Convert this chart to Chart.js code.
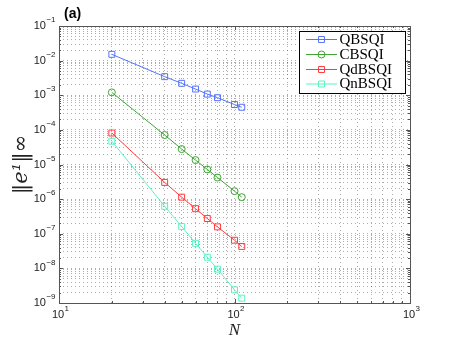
<!DOCTYPE html>
<html>
<head>
<meta charset="utf-8">
<script src="https://cdn.jsdelivr.net/npm/chart.js@4.4.1/dist/chart.umd.min.js"></script>
<style>
  html, body { margin: 0; padding: 0; background: #fff; }
  #wrap { width: 452px; height: 341px; }
</style>
</head>
<body>
<div id="wrap"><canvas id="myChart" width="452" height="341"></canvas></div>
<script>
// data
const valoresN = [20, 40, 50, 60, 70, 80, 100, 110];
const qbsqi   = [1.52e-2, 3.44e-3, 2.21e-3, 1.51e-3, 1.08e-3, 8.5e-4, 5.4e-4, 4.5e-4];
const cbsqi   = [1.21e-3, 7.1e-5, 2.79e-5, 1.34e-5, 7.2e-6, 4.2e-6, 1.7e-6, 1.14e-6];
const qdbsqi  = [8.1e-5, 3.04e-6, 1.14e-6, 5.3e-7, 2.75e-7, 1.58e-7, 6.5e-8, 4.3e-8];
const qnbsqi  = [4.7e-5, 6.2e-7, 1.62e-7, 5.3e-8, 2.1e-8, 9.5e-9, 2.4e-9, 1.38e-9];
const nombres = ['QBSQI', 'CBSQI', 'QdBSQI', 'QnBSQI'];
const xExps = [1, 2, 3];
const yExps = [-9, -8, -7, -6, -5, -4, -3, -2, -1];

const colores = ['#5573ff', '#3da532', '#ff3c3c', '#5cf2c4'];
const marcas = ['rect', 'circle', 'rect', 'rect'];
const series = [qbsqi, cbsqi, qdbsqi, qnbsqi];

function ticksLog(exps) {
  // 1..9 x 10^e for every decade, plus the last major
  const t = [];
  for (let i = 0; i < exps.length - 1; i++) {
    for (let k = 1; k <= 9; k++) t.push({ value: k * Math.pow(10, exps[i]), major: k === 1 });
  }
  t.push({ value: Math.pow(10, exps[exps.length - 1]), major: true });
  return t;
}

const datasets = series.map((s, i) => ({
  label: nombres[i],
  data: valoresN.map((n, j) => ({ x: n, y: s[j] })),
  borderColor: colores[i],
  backgroundColor: 'rgba(0,0,0,0)',
  borderWidth: 1,
  pointStyle: marcas[i],
  pointRadius: marcas[i] === 'circle' ? 3.5 : 4.2,
  pointBorderWidth: 1,
  pointBorderColor: colores[i],
  pointBackgroundColor: 'rgba(0,0,0,0)',
  tension: 0
}));

function potencia(ctx, exp, x, y, align) {
  // draws "10" with a raised exponent
  ctx.font = '11px "Liberation Sans", Arial, sans-serif';
  const wBase = ctx.measureText('10').width;
  ctx.font = '8px "Liberation Sans", Arial, sans-serif';
  const eTxt = String(exp).replace('-', '\u2212');
  const wExp = ctx.measureText(eTxt).width;
  let x0;
  if (align === 'right') x0 = x - wBase - wExp;
  else x0 = x - wBase / 2 - 1;
  ctx.textBaseline = 'middle';
  ctx.textAlign = 'left';
  ctx.font = '11px "Liberation Sans", Arial, sans-serif';
  ctx.fillText('10', x0, y);
  ctx.font = '8px "Liberation Sans", Arial, sans-serif';
  ctx.fillText(eTxt, x0 + wBase + 0.5, y - 6);
}

const dibujoExtra = {
  id: 'dibujoExtra',
  afterDraw(chart) {
    const ctx = chart.ctx;
    const a = chart.chartArea;
    const sx = chart.scales.x, sy = chart.scales.y;
    ctx.save();
    // box
    ctx.strokeStyle = '#555';
    ctx.lineWidth = 1;
    ctx.strokeRect(Math.round(a.left) + 0.5, Math.round(a.top) + 0.5, Math.round(a.right - a.left), Math.round(a.bottom - a.top));
    // small inward tick marks
    ctx.beginPath();
    sx.ticks.forEach(t => {
      const px = Math.round(sx.getPixelForValue(t.value)) + 0.5;
      const L = t.major ? 4 : 2;
      ctx.moveTo(px, a.bottom); ctx.lineTo(px, a.bottom - L);
      ctx.moveTo(px, a.top); ctx.lineTo(px, a.top + L);
    });
    sy.ticks.forEach(t => {
      const py = Math.round(sy.getPixelForValue(t.value)) + 0.5;
      const L = t.major ? 4 : 2;
      ctx.moveTo(a.left, py); ctx.lineTo(a.left + L, py);
      ctx.moveTo(a.right, py); ctx.lineTo(a.right - L, py);
    });
    ctx.stroke();

    // tick labels
    ctx.fillStyle = '#222';
    yExps.forEach(e => potencia(ctx, e, 55, sy.getPixelForValue(Math.pow(10, e)), 'right'));
    xExps.forEach(e => potencia(ctx, e, sx.getPixelForValue(Math.pow(10, e)), 315, 'center'));

    // axis titles
    ctx.fillStyle = '#222';
    ctx.font = 'italic 17px "Liberation Serif", "Times New Roman", serif';
    ctx.textAlign = 'center';
    ctx.textBaseline = 'middle';
    ctx.fillText('N', (a.left + a.right) / 2, 331);
    ctx.save();
    ctx.translate(22, (a.top + a.bottom) / 2);
    ctx.rotate(-Math.PI / 2);
    ctx.font = 'italic 21px "DejaVu Serif", "Liberation Serif", serif';
    ctx.fillText('\u2016e\u00b9\u2016\u221e', 0, 0);
    ctx.restore();

    // panel label
    ctx.font = 'bold 14px "Liberation Sans", Arial, sans-serif';
    ctx.textAlign = 'left';
    ctx.fillStyle = '#000';
    ctx.fillText('(a)', 64, 14);

    // legend box
    const lx = 299, ly = 31, lw = 106, lh = 62;
    ctx.fillStyle = '#fff';
    ctx.fillRect(lx, ly, lw, lh);
    ctx.strokeStyle = '#000';
    ctx.strokeRect(lx + 0.5, ly + 0.5, lw, lh);
    const filas = [39.5, 54.5, 69.5, 84];
    nombres.forEach((nom, i) => {
      const yy = filas[i];
      ctx.strokeStyle = colores[i];
      ctx.lineWidth = 1;
      ctx.beginPath();
      ctx.moveTo(306, yy); ctx.lineTo(337, yy);
      ctx.stroke();
      ctx.fillStyle = 'rgba(0,0,0,0)';
      ctx.strokeStyle = colores[i];
      Chart.helpers.drawPoint(ctx, {
        pointStyle: marcas[i],
        radius: marcas[i] === 'circle' ? 3.5 : 4.2,
        borderWidth: 1,
        rotation: 0
      }, 321.5, yy);
      ctx.fillStyle = '#000';
      ctx.font = '15px "Liberation Serif", "Times New Roman", serif';
      ctx.textAlign = 'left';
      ctx.textBaseline = 'middle';
      ctx.fillText(nom, 339.5, yy + 0.5);
    });
    ctx.restore();
  }
};

const config = {
  type: 'line',
  data: { datasets: datasets },
  options: {
    responsive: false,
    animation: false,
    events: [],
    layout: { padding: { left: 59, right: 42, top: 26, bottom: 38 } },
    plugins: { legend: { display: false }, tooltip: { enabled: false } },
    scales: {
      x: {
        type: 'logarithmic',
        min: 10,
        max: 1000,
        afterBuildTicks: s => { s.ticks = ticksLog(xExps); },
        ticks: { display: false },
        grid: { color: 'rgba(0,0,0,0.32)', lineWidth: 1, drawTicks: false },
        border: { display: false, dash: [1, 3] }
      },
      y: {
        type: 'logarithmic',
        min: 1e-9,
        max: 1e-1,
        afterBuildTicks: s => { s.ticks = ticksLog(yExps); },
        ticks: { display: false },
        grid: { color: 'rgba(0,0,0,0.32)', lineWidth: 1, drawTicks: false },
        border: { display: false, dash: [1, 3] }
      }
    }
  },
  plugins: [dibujoExtra]
};

new Chart(document.getElementById('myChart'), config);
</script>
</body>
</html>
